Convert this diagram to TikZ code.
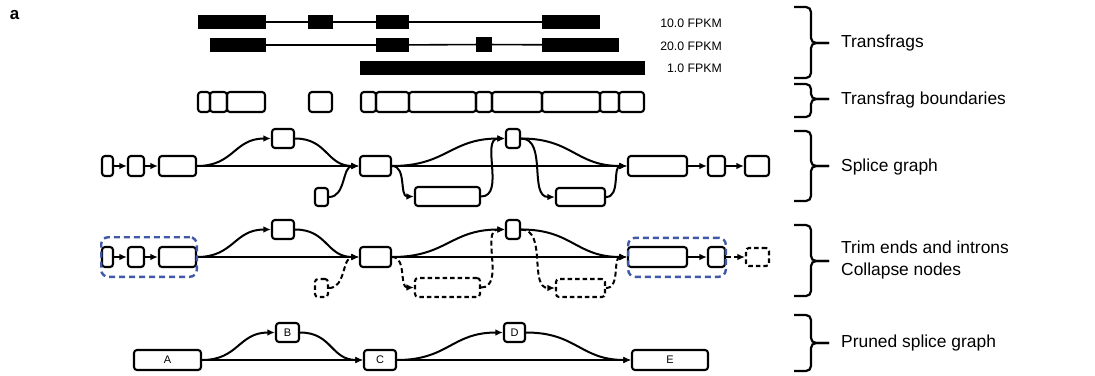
\documentclass[tikz,border=0pt]{standalone}
\usepackage{fontspec}
\setmainfont{Liberation Sans}
\usetikzlibrary{arrows.meta}
\definecolor{trimblue}{RGB}{64,88,168}
\tikzset{
 gbox/.style={draw, line width=2.1pt, rounded corners=3pt, inner sep=0pt, fill=white},
 dgbox/.style={gbox, dash pattern=on 4.5pt off 3pt},
 bar/.style={fill=black, inner sep=0pt, minimum height=14pt},
 bnd/.style={draw, line width=2.1pt, rounded corners=3pt, inner sep=0pt, minimum height=20pt},
 link/.style={line width=1.6pt},
 conn/.style={line width=2pt, -{Latex[length=7.5pt,width=6.5pt]}},
 dconn/.style={conn, dash pattern=on 5pt off 3pt},
 trimbox/.style={draw=trimblue, line width=2.4pt, dash pattern=on 6pt off 4pt, rounded corners=7pt, inner sep=0pt},
 fpkm/.style={anchor=east, font=\fontsize{12.3}{14}\selectfont, inner sep=0pt},
 lbl/.style={anchor=west, font=\fontsize{17.4}{21.5}\selectfont, inner sep=0pt, align=left},
 bracepath/.style={line width=2.2pt, rounded corners=5pt},
 nlbl/.style={font=\fontsize{11}{12}\selectfont}
}
\begin{document}
\begin{tikzpicture}[x=1pt,y=-1pt]
\useasboundingbox (0,0) rectangle (1095,375);
% panel label
\node[font=\bfseries\fontsize{17}{18}\selectfont, inner sep=0pt] (panel) at (14.5,15) {a};

% ---------- Transfrags ----------
\node[bar, minimum width=68pt] (b11) at (232,22) {};
\node[bar, minimum width=25pt] (b12) at (320.5,22) {};
\node[bar, minimum width=33pt] (b13) at (392.5,22) {};
\node[bar, minimum width=58pt] (b14) at (571,22) {};
\draw[link] (b11) -- (b12);
\draw[link] (b12) -- (b13);
\draw[link] (b13) -- (b14);
\node[fpkm] (f1) at (722,23) {10.0 FPKM};

\node[bar, minimum width=56pt] (b21) at (238,45) {};
\node[bar, minimum width=33pt] (b22) at (392.5,45) {};
\node[bar, minimum width=16pt, minimum height=15pt] (b23) at (484,44.5) {};
\node[bar, minimum width=77pt] (b24) at (580.5,45) {};
\draw[link] (b21) -- (b22);
\draw[link] (b22) -- (b23);
\draw[link] (b23) -- (b24);
\node[fpkm] (f2) at (722,46) {20.0 FPKM};

\node[bar, minimum width=285pt] (b31) at (502.5,68) {};
\node[fpkm] (f3) at (722,68) {1.0 FPKM};

% ---------- Transfrag boundaries ----------
\node[bnd, minimum width=12pt] (t1) at (204,102) {};
\node[bnd, minimum width=17pt] (t2) at (218.5,102) {};
\node[bnd, minimum width=38pt] (t3) at (246,102) {};
\node[bnd, minimum width=23pt] (t4) at (320.5,102) {};
\node[bnd, minimum width=15pt] (t5) at (368.5,102) {};
\node[bnd, minimum width=33pt] (t6) at (392.5,102) {};
\node[bnd, minimum width=67pt] (t7) at (442.5,102) {};
\node[bnd, minimum width=16pt] (t8) at (484,102) {};
\node[bnd, minimum width=50pt] (t9) at (517,102) {};
\node[bnd, minimum width=58pt] (t10) at (571,102) {};
\node[bnd, minimum width=19pt] (t11) at (609.5,102) {};
\node[bnd, minimum width=25pt] (t12) at (631.5,102) {};

% ---------- Splice graph ----------
\node[gbox, minimum width=11pt, minimum height=20pt] (s1) at (107.5,166) {};
\node[gbox, minimum width=16pt, minimum height=20pt] (s2) at (136,166) {};
\node[gbox, minimum width=37pt, minimum height=20pt] (s3) at (177.5,166) {};
\node[gbox, minimum width=22pt, minimum height=19pt] (sT1) at (283,138.5) {};
\node[gbox, minimum width=31pt, minimum height=20pt] (sC) at (375.5,166) {};
\node[gbox, minimum width=13pt, minimum height=18pt] (sS1) at (321.5,197) {};
\node[gbox, minimum width=65pt, minimum height=19pt] (sL1) at (447.5,196.5) {};
\node[gbox, minimum width=14pt, minimum height=19pt] (sT2) at (513,138.5) {};
\node[gbox, minimum width=49pt, minimum height=18pt] (sL2) at (580.5,197) {};
\node[gbox, minimum width=59pt, minimum height=20pt] (sR1) at (657.5,166) {};
\node[gbox, minimum width=17pt, minimum height=20pt] (sR2) at (716.5,166) {};
\node[gbox, minimum width=24pt, minimum height=20pt] (sR3) at (757,166) {};
\draw[conn] (s1) -- (s2);
\draw[conn] (s2) -- (s3);
\draw[conn] (s3) -- (sC);
\draw[conn] (s3.east) to[out=0,in=180,looseness=1.2] (sT1.west);
\draw[conn] (sT1.east) to[out=0,in=180,looseness=1.2] (sC.west);
\draw[conn] (sS1.east) to[out=0,in=180] (sC.west);
\draw[conn] (sC.east) to[out=0,in=180] (sL1.west);
\draw[conn] (sC) -- (sR1);
\draw[conn] (sC.east) to[out=0,in=180,looseness=1.2] (sT2.west);
\draw[conn] (sL1.east) to[out=0,in=180] (sT2.west);
\draw[conn] (sT2.east) to[out=0,in=180,looseness=1.2] (sR1.west);
\draw[conn] (sT2.east) to[out=0,in=180] (sL2.west);
\draw[conn] (sL2.east) to[out=0,in=180] (sR1.west);
\draw[conn] (sR1) -- (sR2);
\draw[conn] (sR2) -- (sR3);

% ---------- Trim ends / collapse ----------
\node[gbox, minimum width=11pt, minimum height=20pt] (r1) at (107.5,257) {};
\node[gbox, minimum width=16pt, minimum height=20pt] (r2) at (136,257) {};
\node[gbox, minimum width=37pt, minimum height=20pt] (r3) at (177.5,257) {};
\node[gbox, minimum width=22pt, minimum height=19pt] (rT1) at (283,229.5) {};
\node[gbox, minimum width=31pt, minimum height=20pt] (rC) at (375.5,257) {};
\node[dgbox, minimum width=13pt, minimum height=18pt] (rS1) at (321.5,288) {};
\node[dgbox, minimum width=65pt, minimum height=19pt] (rL1) at (447.5,287.5) {};
\node[gbox, minimum width=14pt, minimum height=19pt] (rT2) at (513,229.5) {};
\node[dgbox, minimum width=49pt, minimum height=18pt] (rL2) at (580.5,288) {};
\node[gbox, minimum width=59pt, minimum height=20pt] (rR1) at (657.5,257) {};
\node[gbox, minimum width=17pt, minimum height=20pt] (rR2) at (716.5,257) {};
\node[dgbox, minimum width=23pt, minimum height=18pt] (rR3) at (757.5,257) {};
\draw[conn] (r1) -- (r2);
\draw[conn] (r2) -- (r3);
\draw[conn] (r3) -- (rC);
\draw[conn] (r3.east) to[out=0,in=180,looseness=1.2] (rT1.west);
\draw[conn] (rT1.east) to[out=0,in=180,looseness=1.2] (rC.west);
\draw[dconn] (rS1.east) to[out=0,in=180] (rC.west);
\draw[dconn] (rC.east) to[out=0,in=180] (rL1.west);
\draw[conn] (rC) -- (rR1);
\draw[conn] (rC.east) to[out=0,in=180,looseness=1.2] (rT2.west);
\draw[dconn] (rL1.east) to[out=0,in=180] (rT2.west);
\draw[conn] (rT2.east) to[out=0,in=180,looseness=1.2] (rR1.west);
\draw[dconn] (rT2.east) to[out=0,in=180] (rL2.west);
\draw[dconn] (rL2.east) to[out=0,in=180] (rR1.west);
\draw[conn] (rR1) -- (rR2);
\draw[dconn] (rR2) -- (rR3);
\node[trimbox, minimum width=95.6pt, minimum height=39.6pt] (g1) at (149,257) {};
\node[trimbox, minimum width=97.6pt, minimum height=39pt] (g2) at (677,257.3) {};

% ---------- Pruned splice graph ----------
\node[gbox, nlbl, minimum width=67pt, minimum height=20pt] (pA) at (167.5,360) {A};
\node[gbox, nlbl, minimum width=23pt, minimum height=19pt] (pB) at (287.5,332.5) {B};
\node[gbox, nlbl, minimum width=32pt, minimum height=20pt] (pC) at (380,360) {C};
\node[gbox, nlbl, minimum width=21pt, minimum height=19pt] (pD) at (514.5,332.5) {D};
\node[gbox, nlbl, minimum width=76pt, minimum height=20pt] (pE) at (670,360) {E};
\draw[conn] (pA) -- (pC);
\draw[conn] (pA.east) to[out=0,in=180,looseness=1.2] (pB.west);
\draw[conn] (pB.east) to[out=0,in=180,looseness=1.2] (pC.west);
\draw[conn] (pC) -- (pE);
\draw[conn] (pC.east) to[out=0,in=180,looseness=1.2] (pD.west);
\draw[conn] (pD.east) to[out=0,in=180,looseness=1.2] (pE.west);

% ---------- Braces and labels ----------
\foreach \t/\m/\b in {7/43/78, 84/99/117, 131/166/201, 225/261/296, 315/343/371}{
  \draw[bracepath] (794,\t) -- (811,\t) -- (811,\m) -- (829,\m);
  \draw[bracepath] (794,\b) -- (811,\b) -- (811,\m) -- (829,\m);
}
\node[lbl] (l1) at (841,43) {Transfrags};
\node[lbl] (l2) at (841,100) {Transfrag boundaries};
\node[lbl] (l3) at (841,166.5) {Splice graph};
\node[lbl] (l4) at (841,260) {Trim ends and introns\\Collapse nodes};
\node[lbl] (l5) at (841,343) {Pruned splice graph};
\end{tikzpicture}
\end{document}
